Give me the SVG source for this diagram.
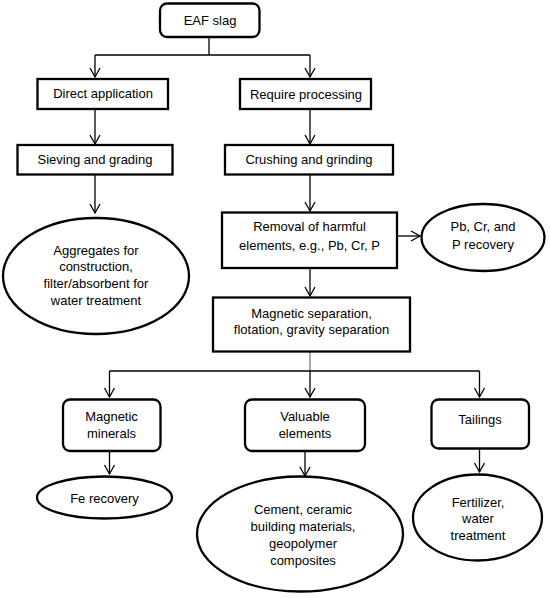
<svg xmlns="http://www.w3.org/2000/svg" width="550" height="598" viewBox="0 0 550 598">
<defs>
<style>
.box{fill:#fff;stroke:#000;stroke-width:2.3}
.ell{fill:#fff;stroke:#000;stroke-width:2.3}
.con{fill:none;stroke:#000;stroke-width:1.3}
.con2{fill:none;stroke:#777;stroke-width:1.3}
text{font-family:"Liberation Sans",Arial,sans-serif;font-size:13px;fill:#000;text-anchor:middle}
</style>
<marker id="arr" markerUnits="userSpaceOnUse" markerWidth="14" markerHeight="14" viewBox="-10 -7 14 14" refX="0" refY="0" orient="auto">
<path d="M-9,-5 L0,0 L-9,5" fill="none" stroke="#000" stroke-width="1.3"/>
</marker>
</defs>
<rect width="550" height="598" fill="#fff"/>
<g id="connectors">
<path class="con" d="M209,37 V55"/>
<path class="con" d="M95,55 H310"/>
<path class="con" d="M95,55 V77" marker-end="url(#arr)"/>
<path class="con" d="M310,55 V77" marker-end="url(#arr)"/>
<path class="con" d="M95,109 V144" marker-end="url(#arr)"/>
<path class="con" d="M310,109 V144" marker-end="url(#arr)"/>
<path class="con" d="M95,175 V213" marker-end="url(#arr)"/>
<path class="con" d="M310,175 V211" marker-end="url(#arr)"/>
<path class="con" d="M397,236 H420" marker-end="url(#arr)"/>
<path class="con" d="M310,268 V296" marker-end="url(#arr)"/>
<path class="con2" d="M310,352 V371"/>
<path class="con" d="M109.5,371 H479.5"/>
<path class="con" d="M310,371 V397" marker-end="url(#arr)"/>
<path class="con" d="M109.5,371 V397" marker-end="url(#arr)"/>
<path class="con" d="M479.5,371 V397" marker-end="url(#arr)"/>
<path class="con" d="M109.5,451 V474" marker-end="url(#arr)"/>
<path class="con" d="M305,452 V476" marker-end="url(#arr)"/>
<path class="con" d="M479.5,449 V472" marker-end="url(#arr)"/>
</g>
<g id="n-eaf"><rect class="box" x="160" y="3.5" width="99.5" height="33.5" rx="7"/><text x="210" y="24.5">EAF slag</text></g>
<g id="n-direct"><rect class="box" x="37.5" y="79" width="130.5" height="30"/><text x="103" y="98">Direct application</text></g>
<g id="n-require"><rect class="box" x="240" y="79" width="131" height="30"/><text x="306" y="99">Require processing</text></g>
<g id="n-sieving"><rect class="box" x="17.5" y="145" width="155" height="29.5"/><text x="95" y="163.5">Sieving and grading</text></g>
<g id="n-crushing"><rect class="box" x="225" y="145" width="168" height="29.5"/><text x="309" y="163.5">Crushing and grinding</text></g>
<g id="n-aggregates"><ellipse class="ell" cx="96" cy="276" rx="93" ry="58"/>
<text x="96" y="254.5">Aggregates for</text><text x="96" y="271">construction,</text><text x="96" y="288">filter/absorbent for</text><text x="96" y="304.5">water treatment</text></g>
<g id="n-removal"><rect class="box" x="222" y="212.5" width="175" height="55.5"/>
<text x="309.5" y="230.5">Removal of harmful</text><text x="309.5" y="249.5">elements, e.g., Pb, Cr, P</text></g>
<g id="n-pbcr"><ellipse class="ell" cx="483" cy="237.5" rx="61.5" ry="33.5"/>
<text x="483" y="230.5">Pb, Cr, and</text><text x="483" y="248.5">P recovery</text></g>
<g id="n-magsep"><rect class="box" x="213" y="297.5" width="197" height="54"/>
<text x="311.5" y="318">Magnetic separation,</text><text x="311.5" y="334">flotation, gravity separation</text></g>
<g id="n-magmin"><rect class="box" x="63" y="399.5" width="97.5" height="51.5" rx="7"/>
<text x="111.5" y="420.5">Magnetic</text><text x="111.5" y="437.5">minerals</text></g>
<g id="n-valuable"><rect class="box" x="245" y="399.5" width="120" height="51.5" rx="7"/>
<text x="305" y="420.5">Valuable</text><text x="305" y="437.5">elements</text></g>
<g id="n-tailings"><rect class="box" x="431.5" y="399.5" width="97.5" height="49" rx="7"/>
<text x="480" y="424">Tailings</text></g>
<g id="n-fe"><ellipse class="ell" cx="104.5" cy="497.5" rx="67.5" ry="21"/><text x="104.5" y="502.5">Fe recovery</text></g>
<g id="n-cement"><ellipse class="ell" cx="300" cy="534" rx="103" ry="57.5"/>
<text x="303" y="514">Cement, ceramic</text><text x="303" y="531">building materials,</text><text x="303" y="548">geopolymer</text><text x="303" y="565">composites</text></g>
<g id="n-fert"><ellipse class="ell" cx="477.5" cy="517.5" rx="64.5" ry="43"/>
<text x="478" y="506.5">Fertilizer,</text><text x="478" y="522.5">water</text><text x="478" y="539.5">treatment</text></g>
</svg>
